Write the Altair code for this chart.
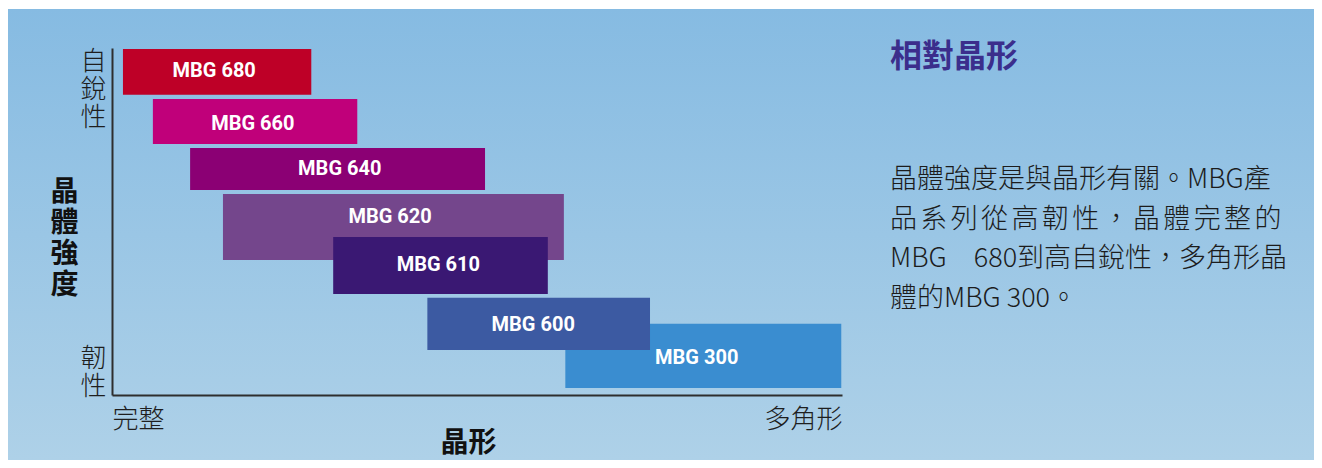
import altair as alt
import pandas as pd

# ---- data ----
grades = ["MBG 680", "MBG 660", "MBG 640", "MBG 620", "MBG 610", "MBG 300", "MBG 600"]
shape_start = [1.5, 5.6, 10.7, 15.2, 30.3, 62.1, 43.2]
shape_end = [27.3, 33.6, 51.1, 61.9, 59.7, 99.9, 73.7]
strength_top = [99.7, 85.3, 71.2, 57.9, 45.5, 20.5, 28.0]
strength_bottom = [86.5, 72.3, 59.1, 38.9, 29.1, 2.0, 13.0]
label_shape = [14.0, 19.3, 31.2, 38.1, 44.7, 80.1, 57.7]
label_strength = [93.4, 78.1, 65.1, 51.3, 37.5, 10.7, 20.2]
bar_colors = ["#BE0027", "#C0007A", "#8B0074", "#74468C", "#3A1873", "#3A8DD0", "#3C5AA2"]

x_ticks = [0, 100]
y_ticks = [14.4, 100]
x_tick_labels = ["完整", "多角形"]
y_tick_labels_top = ["自", "銳", "性"]
y_tick_labels_bottom = ["韌", "性"]
x_title = "晶形"
y_title = ["晶", "體", "強", "度"]
side_title = "相對晶形"
HS = "\u200a\u200a"
side_lines = [
    "晶體強度是與晶形有關。MBG產",
    HS.join("品系列從高韌性，晶體完整的"),
    "MBG\u3000680到高自銳性，多角形晶",
    "體的MBG 300。",
]

CJK = "Noto Sans CJK TC"
NARROW = "Roboto, sans-serif"

df = pd.DataFrame({
    "grade": grades,
    "x0": shape_start,
    "x1": shape_end,
    "y0": strength_bottom,
    "y1": strength_top,
    "lx": label_shape,
    "ly": label_strength,
})

W, H = 730, 347
PAD = {"left": 104, "top": 40, "right": 472, "bottom": 65}

xscale = alt.Scale(domain=[0, 100], nice=False, zero=False)
yscale = alt.Scale(domain=[0, 100], nice=False, zero=False)

xaxis = alt.Axis(
    values=x_ticks,
    labelExpr=f"datum.value == 0 ? '{x_tick_labels[0]}' : '{x_tick_labels[1]}'",
    labelFlush=True, ticks=False, grid=False,
    domainColor="#2e2e2e", domainWidth=2,
    labelFont=CJK, labelFontSize=26, labelFontWeight=300, labelColor="#1e1e1e",
    labelPadding=11,
    title=x_title, titleFont=CJK, titleFontSize=28, titleFontWeight="bold",
    titleColor="#111111", titleX=356, titleY=48,
    titleAlign="center", titleBaseline="middle", titleAngle=0,
    zindex=1,
)
yaxis = alt.Axis(
    values=y_ticks,
    labelExpr="datum.value == 100 ? " + str(y_tick_labels_top) + " : " + str(y_tick_labels_bottom),
    labelFlush=False, labelBaseline="top", ticks=False, grid=False,
    domainColor="#2e2e2e", domainWidth=2,
    labelFont=CJK, labelFontSize=26, labelFontWeight=300, labelColor="#1e1e1e",
    labelPadding=6, labelLineHeight=28,
    title=y_title, titleFont=CJK, titleFontSize=28, titleFontWeight="bold",
    titleColor="#111111", titleAngle=0, titleX=-48, titleY=144,
    titleAlign="center", titleBaseline="middle", titleLineHeight=31,
    zindex=1,
)

bg = alt.Chart(pd.DataFrame({"a": [0]})).mark_rect(
    fill=alt.LinearGradient(
        gradient="linear",
        stops=[alt.GradientStop(color="#86bbe2", offset=0),
               alt.GradientStop(color="#aed1e8", offset=1)],
        x1=0, x2=0, y1=0, y2=1,
    ),
    strokeWidth=0,
).encode(
    x=alt.value(-PAD["left"]), x2=alt.value(W + PAD["right"]),
    y=alt.value(-PAD["top"] + 1), y2=alt.value(H + PAD["bottom"]),
)

bars = alt.Chart(df).mark_rect(strokeWidth=0).encode(
    x=alt.X("x0:Q", scale=xscale, axis=xaxis),
    x2="x1:Q",
    y=alt.Y("y0:Q", scale=yscale, axis=yaxis),
    y2="y1:Q",
    color=alt.Color("grade:N", scale=alt.Scale(domain=grades, range=bar_colors), legend=None),
)

labels = alt.Chart(df).mark_text(
    font=NARROW, fontSize=20, fontWeight="bold", color="white",
    align="center", baseline="middle",
).encode(
    x=alt.X("lx:Q", scale=xscale, axis=xaxis),
    y=alt.Y("ly:Q", scale=yscale, axis=yaxis),
    text="grade:N",
)

title_txt = alt.Chart(pd.DataFrame({"t": [side_title]})).mark_text(
    font=CJK, fontSize=32, fontWeight="bold", color="#3b2e8c",
    align="left", baseline="middle",
).encode(x=alt.value(778), y=alt.value(9), text="t:N")

body_txt = alt.Chart(pd.DataFrame({"t": ["\n".join(side_lines)]})).mark_text(
    font=CJK, fontSize=27, fontWeight=300, color="#1c1c1c",
    align="left", baseline="middle", lineBreak="\n", lineHeight=39.5,
).encode(x=alt.value(778), y=alt.value(132), text="t:N")

chart = alt.layer(bg, bars, labels, title_txt, body_txt).properties(
    width=W, height=H,
    padding=PAD,
    autosize=alt.AutoSizeParams(type="none"),
).configure_view(stroke=None)

chart.save("out.html", embed_options={"renderer": "svg", "actions": False})
